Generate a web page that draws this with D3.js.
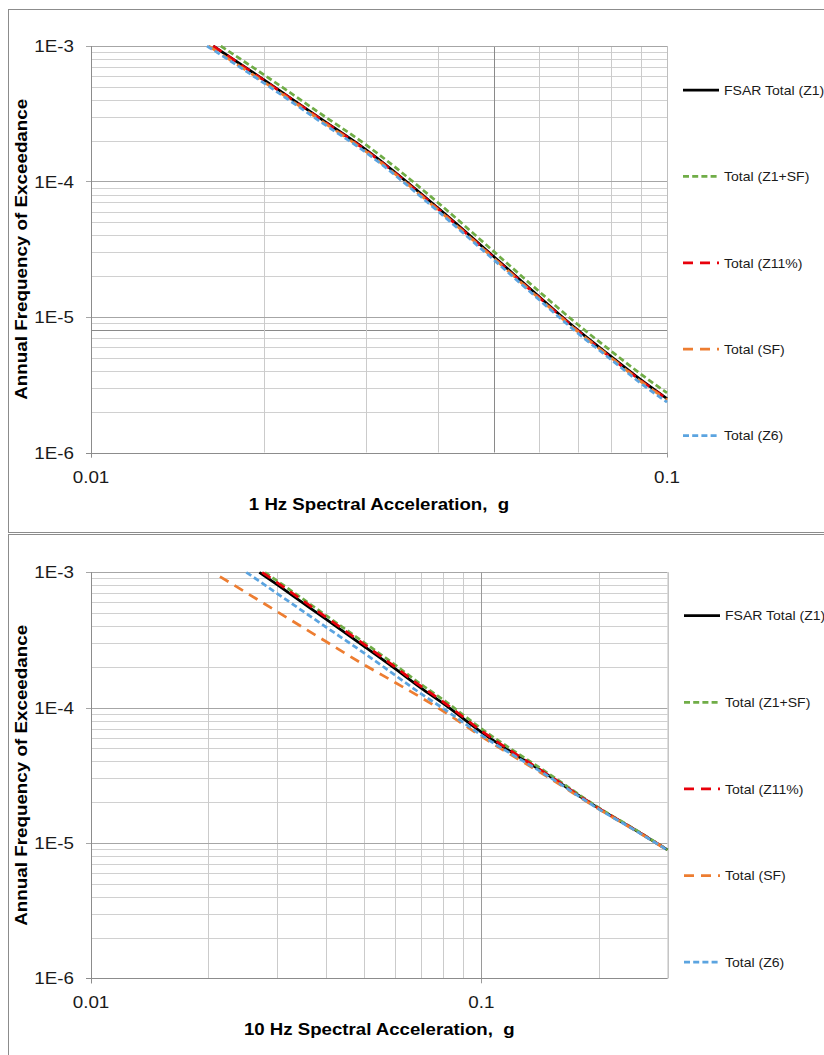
<!DOCTYPE html>
<html>
<head>
<meta charset="utf-8">
<script src="https://cdn.jsdelivr.net/npm/d3@7"></script>
<style>
  html, body { margin: 0; padding: 0; background: #fff; }
  svg { display: block; }
  text { font-family: "Liberation Sans", Arial, sans-serif; white-space: pre; }
</style>
</head>
<body>
<div id="chart"></div>
<script>
// ---------------- DATA ----------------
const seriesNames = ["FSAR Total (Z1)", "Total (Z1+SF)", "Total (Z11%)", "Total (SF)", "Total (Z6)"];
const seriesColors = ["#000000", "#70AD47", "#E8000B", "#ED7D31", "#5BA4E0"];
const seriesDash = [null, "6,3.2", "10,7", "10,7", "6,3.2"];

const yTickValues = [1e-3, 1e-4, 1e-5, 1e-6];
const yTickLabels = ["1E-3", "1E-4", "1E-5", "1E-6"];

// Panel 1: 1 Hz
const hz1Title = "1 Hz Spectral Acceleration,\u00a0 g";
const hz1XTicks = [0.01, 0.1];
const hz1XTickLabels = ["0.01", "0.1"];
const hz1Fsar_x  = [0.0163, 0.02, 0.025, 0.03, 0.04, 0.05, 0.06, 0.07, 0.08, 0.09, 0.1];
const hz1Fsar_y  = [1.0e-3, 5.6e-4, 2.92e-4, 1.72e-4, 6.4e-5, 2.8e-5, 1.41e-5, 8.0e-6, 5.1e-6, 3.45e-6, 2.5e-6];
const hz1Z1SF_x  = [0.0168, 0.02, 0.025, 0.03, 0.04, 0.05, 0.06, 0.07, 0.08, 0.09, 0.1];
const hz1Z1SF_y  = [1.0e-3, 6.1e-4, 3.18e-4, 1.87e-4, 7.0e-5, 3.05e-5, 1.54e-5, 8.8e-6, 5.6e-6, 3.8e-6, 2.75e-6];
const hz1Z11_x   = [0.0163, 0.02, 0.025, 0.03, 0.04, 0.05, 0.06, 0.07, 0.08, 0.09, 0.1];
const hz1Z11_y   = [1.0e-3, 5.55e-4, 2.9e-4, 1.7e-4, 6.3e-5, 2.75e-5, 1.39e-5, 7.9e-6, 5.0e-6, 3.4e-6, 2.48e-6];
const hz1SF_x    = [0.0160, 0.02, 0.025, 0.03, 0.04, 0.05, 0.06, 0.07, 0.08, 0.09, 0.1];
const hz1SF_y    = [1.0e-3, 5.4e-4, 2.84e-4, 1.67e-4, 6.2e-5, 2.72e-5, 1.37e-5, 7.8e-6, 5.0e-6, 3.35e-6, 2.45e-6];
const hz1Z6_x    = [0.0159, 0.02, 0.025, 0.03, 0.04, 0.05, 0.06, 0.07, 0.08, 0.09, 0.1];
const hz1Z6_y    = [1.0e-3, 5.3e-4, 2.77e-4, 1.64e-4, 6.05e-5, 2.65e-5, 1.34e-5, 7.6e-6, 4.85e-6, 3.25e-6, 2.35e-6];

// Panel 2: 10 Hz
const hz10Title = "10 Hz Spectral Acceleration,\u00a0 g";
const hz10XTicks = [0.01, 0.1];
const hz10XTickLabels = ["0.01", "0.1"];
const hz10Fsar_x = [0.027, 0.03, 0.04, 0.05, 0.06, 0.07, 0.08, 0.1, 0.15, 0.2, 0.25, 0.3];
const hz10Fsar_y = [1.0e-3, 8.1e-4, 4.5e-4, 2.85e-4, 1.95e-4, 1.40e-4, 1.07e-4, 6.6e-5, 3.1e-5, 1.8e-5, 1.23e-5, 8.9e-6];
const hz10Z1SF_x = [0.0279, 0.03, 0.04, 0.05, 0.06, 0.07, 0.08, 0.1, 0.15, 0.2, 0.25, 0.3];
const hz10Z1SF_y = [1.0e-3, 8.65e-4, 4.8e-4, 3.04e-4, 2.08e-4, 1.49e-4, 1.14e-4, 7.0e-5, 3.2e-5, 1.82e-5, 1.24e-5, 8.9e-6];
const hz10Z11_x  = [0.02745, 0.03, 0.04, 0.05, 0.06, 0.07, 0.08, 0.1, 0.15, 0.2, 0.25, 0.3];
const hz10Z11_y  = [1.0e-3, 8.4e-4, 4.66e-4, 2.95e-4, 2.01e-4, 1.44e-4, 1.1e-4, 6.75e-5, 3.12e-5, 1.8e-5, 1.23e-5, 8.9e-6];
const hz10SF_x   = [0.0214, 0.025, 0.03, 0.04, 0.05, 0.06, 0.07, 0.08, 0.1, 0.15, 0.2, 0.25, 0.3];
const hz10SF_y   = [9.3e-4, 7.07e-4, 5.12e-4, 3.08e-4, 2.08e-4, 1.54e-4, 1.19e-4, 9.4e-5, 6.14e-5, 3.0e-5, 1.78e-5, 1.22e-5, 8.85e-6];
const hz10Z6_x   = [0.025, 0.03, 0.04, 0.05, 0.06, 0.07, 0.08, 0.1, 0.15, 0.2, 0.25, 0.3];
const hz10Z6_y   = [1.0e-3, 6.97e-4, 3.94e-4, 2.54e-4, 1.745e-4, 1.27e-4, 9.84e-5, 6.27e-5, 3.05e-5, 1.78e-5, 1.22e-5, 8.85e-6];

// ---------------- DRAW ----------------
const W = 824, H = 1055;
const svg = d3.select("#chart").append("svg").attr("width", W).attr("height", H);

// frames
svg.append("rect").attr("x", 8.5).attr("y", 9.5).attr("width", 830).attr("height", 523)
  .attr("fill", "none").attr("stroke", "#8c8c8c").attr("stroke-width", 1);
svg.append("rect").attr("x", 8.5).attr("y", 534.5).attr("width", 830).attr("height", 540)
  .attr("fill", "none").attr("stroke", "#8c8c8c").attr("stroke-width", 1);

function stretchedText(g, x, y, str, opts) {
  const sx = opts.sx || 1.17;
  const t = g.append("text")
    .attr("transform", `translate(${x},${y})` + (opts.rotate ? ` rotate(${opts.rotate})` : "") + ` scale(${sx},1)`)
    .attr("text-anchor", opts.anchor || "start")
    .attr("font-size", opts.size)
    .attr("font-weight", opts.bold ? "bold" : "normal")
    .attr("fill", opts.color || "#000")
    .text(str);
  return t;
}

function drawPanel(cfg) {
  const g = svg.append("g");
  const x = d3.scaleLog().domain(cfg.xDomain).range([cfg.left, cfg.right]);
  const y = d3.scaleLog().domain([1e-6, 1e-3]).range([cfg.bottom, cfg.top]);

  const minorX = [], minorY = [];
  for (let e = -2; e <= 0; e++) for (let m = 2; m <= 9; m++) {
    const v = m * Math.pow(10, e);
    if (v > cfg.xDomain[0] && v < cfg.xDomain[1] * 1.0001) minorX.push(v);
  }
  for (let e = -6; e <= -4; e++) for (let m = 2; m <= 9; m++) minorY.push(m * Math.pow(10, e));

  g.selectAll(null).data(minorY).enter().append("line")
    .attr("x1", cfg.left).attr("x2", cfg.right)
    .attr("y1", d => Math.round(y(d)) + 0.5).attr("y2", d => Math.round(y(d)) + 0.5)
    .attr("stroke", d => (cfg.darkY && Math.abs(d - cfg.darkY) < 1e-9) ? "#8a8a8a" : "#d0d0d0")
    .attr("stroke-width", 1);
  g.selectAll(null).data(minorX).enter().append("line")
    .attr("y1", cfg.top).attr("y2", cfg.bottom)
    .attr("x1", d => Math.round(x(d)) + 0.5).attr("x2", d => Math.round(x(d)) + 0.5)
    .attr("stroke", d => (cfg.darkX && Math.abs(d - cfg.darkX) < 1e-9) ? "#8a8a8a" : "#cbcbcb")
    .attr("stroke-width", 1);
  g.selectAll(null).data(yTickValues).enter().append("line")
    .attr("x1", cfg.left - 5).attr("x2", cfg.right)
    .attr("y1", d => Math.round(y(d)) + 0.5).attr("y2", d => Math.round(y(d)) + 0.5)
    .attr("stroke", "#a6a6a6").attr("stroke-width", 1);
  g.selectAll(null).data(cfg.xTicks).enter().append("line")
    .attr("y1", cfg.top).attr("y2", cfg.bottom + 5)
    .attr("x1", d => Math.round(x(d)) + 0.5).attr("x2", d => Math.round(x(d)) + 0.5)
    .attr("stroke", "#9a9a9a").attr("stroke-width", 1);
  g.append("line").attr("x1", cfg.right + 0.5).attr("x2", cfg.right + 0.5)
    .attr("y1", cfg.top).attr("y2", cfg.bottom).attr("stroke", "#bfbfbf");
  g.append("line").attr("x1", cfg.left + 0.5).attr("x2", cfg.left + 0.5)
    .attr("y1", cfg.top).attr("y2", cfg.bottom + 5).attr("stroke", "#8c8c8c");
  g.append("line").attr("x1", cfg.left - 5).attr("x2", cfg.right)
    .attr("y1", Math.round(cfg.bottom) + 0.5).attr("y2", Math.round(cfg.bottom) + 0.5).attr("stroke", "#8c8c8c");

  yTickValues.forEach((v, i) => {
    stretchedText(g, cfg.left - 17, y(v) + 6, yTickLabels[i], { anchor: "end", size: 16.5, sx: 1.14, color: "#1a1a1a" });
  });
  cfg.xTicks.forEach((v, i) => {
    stretchedText(g, x(v), cfg.bottom + 30, cfg.xTickLabels[i], { anchor: "middle", size: 16.5, sx: 1.14, color: "#1a1a1a" });
  });
  stretchedText(g, (cfg.left + cfg.right) / 2, cfg.bottom + 57, cfg.title, { anchor: "middle", size: 16.5, bold: true, sx: 1.13 });
  stretchedText(g, 27, (cfg.top + cfg.bottom) / 2, "Annual Frequency of Exceedance", { anchor: "middle", size: 16.5, bold: true, rotate: -90, sx: 1.14 });

  const clipId = "clip" + cfg.id;
  svg.append("clipPath").attr("id", clipId).append("rect")
    .attr("x", cfg.left).attr("y", cfg.top - 1).attr("width", cfg.right - cfg.left + 2).attr("height", cfg.bottom - cfg.top + 1);

  const line = d3.line().x(d => x(d[0])).y(d => y(d[1])).curve(d3.curveMonotoneX);
  const lg = g.append("g").attr("clip-path", `url(#${clipId})`);
  cfg.series.forEach((s, i) => {
    const pts = s.x.map((xv, k) => [xv, s.y[k]]);
    lg.append("path").datum(pts).attr("d", line)
      .attr("fill", "none").attr("stroke", seriesColors[i]).attr("stroke-width", 2.75)
      .attr("stroke-dasharray", seriesDash[i]);
  });

  seriesNames.forEach((name, i) => {
    const ly = cfg.legendY + i * cfg.legendStep;
    g.append("line").attr("x1", cfg.legendX).attr("x2", cfg.legendX + 36)
      .attr("y1", ly).attr("y2", ly)
      .attr("stroke", seriesColors[i]).attr("stroke-width", 2.75)
      .attr("stroke-dasharray", seriesDash[i]);
    stretchedText(g, cfg.legendX + 41, ly + 4.7, name, { size: 13, sx: 1.08, color: "#1a1a1a" });
  });
}

drawPanel({
  id: 1, left: 91, right: 667, top: 46, bottom: 452.5,
  xDomain: [0.01, 0.1], xTicks: hz1XTicks, xTickLabels: hz1XTickLabels, title: hz1Title,
  darkX: 0.05, darkY: 8e-6,
  legendX: 683, legendY: 90, legendStep: 86.4,
  series: [
    { x: hz1Fsar_x, y: hz1Fsar_y }, { x: hz1Z1SF_x, y: hz1Z1SF_y }, { x: hz1Z11_x, y: hz1Z11_y },
    { x: hz1SF_x, y: hz1SF_y }, { x: hz1Z6_x, y: hz1Z6_y }
  ]
});

drawPanel({
  id: 2, left: 91, right: 667.5, top: 572.3, bottom: 978.3,
  xDomain: [0.01, 0.3], xTicks: hz10XTicks, xTickLabels: hz10XTickLabels, title: hz10Title,
  legendX: 684, legendY: 615.7, legendStep: 86.6,
  series: [
    { x: hz10Fsar_x, y: hz10Fsar_y }, { x: hz10Z1SF_x, y: hz10Z1SF_y }, { x: hz10Z11_x, y: hz10Z11_y },
    { x: hz10SF_x, y: hz10SF_y }, { x: hz10Z6_x, y: hz10Z6_y }
  ]
});
</script>
</body>
</html>
